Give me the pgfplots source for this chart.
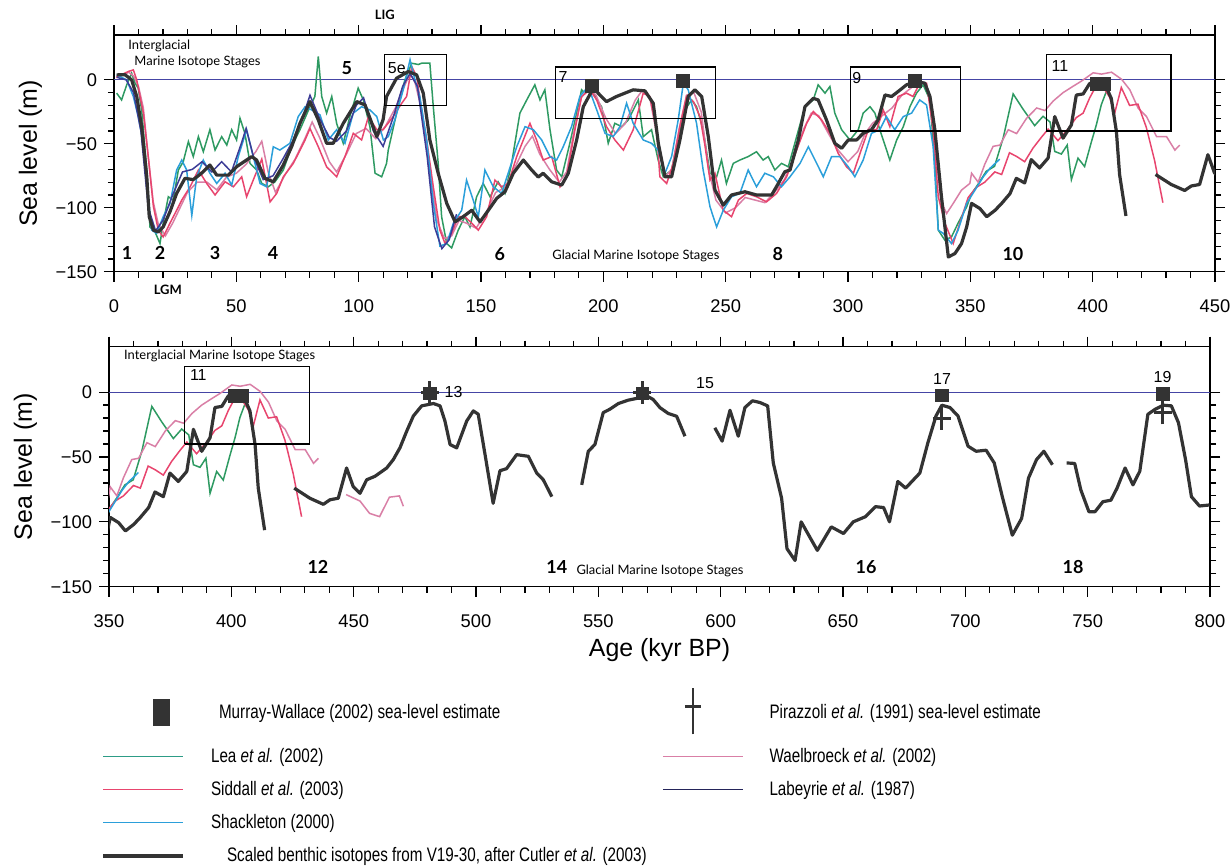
\documentclass[border=0pt]{standalone}
\usepackage{fontspec}
\setmainfont{Liberation Sans}
\newfontfamily\lato{Lato}
\usepackage{graphicx}
\usepackage{pgfplots}
\pgfplotsset{compat=1.18}
\usepackage{pgfplotstable}

\definecolor{cgreen}{HTML}{2E9A62}
\definecolor{cred}{HTML}{E8456E}
\definecolor{cpink}{HTML}{D97FA6}
\definecolor{cblue}{HTML}{2B9FDA}
\definecolor{cnavy}{HTML}{3C3C96}
\definecolor{cblack}{HTML}{333333}
\definecolor{czero}{HTML}{4545A5}

\newcommand\stg[1]{{\lato\bfseries\fontsize{9}{10}\selectfont #1}}
\newcommand\sml[1]{{\lato\fontsize{6.5}{7}\selectfont #1}}
\newcommand\num[1]{{\fontsize{8}{9}\selectfont #1}}
\newcommand\nar[1]{\scalebox{0.78}[1]{#1}}

\pgfplotstableread{
x y
1.1 3.9
4.5 4
7.2 0
9.3 -13
11.3 -36.6
13.4 -75.8
14.4 -107
16.1 -117.5
18.1 -118.9
20.1 -115
22.9 -103
25.6 -88.8
29 -77
32.4 -78
35.8 -73
39.2 -66.6
42 -74.5
46.7 -74.5
50.1 -67.9
56.3 -60
58.3 -62.7
61.7 -77
65.1 -79.7
69.2 -66.6
72.6 -52.3
76 -34
80.1 -17
83.5 -31.3
86.9 -49.6
89.6 -49.6
93.7 -34
99.2 -17
102.6 -19.6
107.4 -44.4
110 -31
111.4 -13
115.5 1.3
120.3 6.5
123.7 3.9
126.4 -10.4
129.1 -47
132.5 -73
136 -96.6
139.4 -111
142.7 -107
146.2 -102
149.6 -111
153 -102
156.4 -92.7
159.8 -87.5
163.2 -73
167.3 -62.7
170.7 -70.5
173.4 -76
175.4 -73
178.9 -79.7
183 -82.3
185.7 -73
189.1 -47
191.8 -21
195.9 -6.5
198.6 -11.8
201.3 -17
205.4 -13
212.2 -7.8
217 -8.6
220.4 -18.3
222.5 -50
225.2 -75.8
227.9 -75.8
231.3 -47
234.7 -13
237.4 -7.8
240.2 -13
242.9 -44.4
245.6 -86
249 -98
252.4 -90
257.9 -87.5
262.6 -90
268.8 -90
271.5 -81
274.2 -71.8
276.3 -70.5
279.7 -47
282.4 -21
285.8 -14.4
287.8 -15.7
291.2 -31.3
294.6 -49.6
297.4 -53.5
300.1 -47
303.5 -47
306.2 -41.8
309.6 -39
312.3 -31.3
315.1 -11.8
317.8 -13
320.5 -9.1
323.9 -3.9
328 -1.3
331.4 -2.6
333.5 -13
335.5 -39
338.2 -91.4
341 -138.5
343.7 -135.8
346.4 -128
348.5 -115
350.5 -96.6
353.9 -100.6
356.7 -107
360.1 -102
362.8 -96.6
366.2 -89
368.8 -77
372.2 -80.6
374.9 -62.4
378.3 -68.9
381.8 -61.1
384.5 -28.7
387.9 -45.6
391.3 -35.2
393.3 -11.9
396.1 -11
398.8 -2.8
401.5 -1.8
404.9 -2.8
407.6 -14.5
409.7 -40.4
411 -74
413.6 -106.4
}\blackA

\pgfplotstableread{
x y
425.7 -74
432.1 -81.8
437.6 -86.5
440.3 -83
443.7 -81.8
447.1 -58.5
449.8 -72.8
452.6 -78
455.3 -67.6
458.7 -64.9
463.5 -58.5
466.2 -52
468.9 -43
471.7 -30
474.4 -18.4
477.8 -10.6
482.6 -8.8
485.3 -10.6
487.3 -22.3
489.4 -40.4
492.1 -43
496.2 -22.3
498.9 -14.5
500.9 -17
503.7 -48.2
507 -85.7
509.8 -60.6
512.5 -59
516.6 -48.2
521.4 -49.5
524.8 -62.4
527.5 -67.6
531 -80.6
}\blackB

\pgfplotstableread{
x y
543.2 -71.5
545.9 -45.6
548.6 -40.4
552 -15.8
554.7 -13.2
558.2 -8.8
562.2 -6.2
565.6 -4.9
569.7 -2.8
572.4 -5.7
575.2 -12
578.6 -16.5
582 -18.6
585.4 -34
}\blackC

\pgfplotstableread{
x y
597.6 -27.5
600.6 -37.8
603.8 -14
607.2 -34
609.9 -11.9
613 -6.7
616 -8
619.2 -10.6
621.5 -54.6
624.9 -81.8
627.1 -120.7
630.4 -129.8
632.9 -100
639.5 -122
645.2 -103.9
650.2 -109
654.2 -100
659.2 -96
663.3 -88.3
666.6 -89
669 -100
672.4 -68.9
675.6 -74
681.4 -62.4
684.7 -39
688 -18.4
690.4 -10.1
693.7 -11.9
697 -18.4
701.1 -41.7
704.4 -45.6
708.5 -44.8
711.8 -54.6
715.1 -80.6
719.2 -110.3
723 -97.4
725.8 -66.3
729.1 -52
732.1 -45.6
735.6 -56
}\blackD

\pgfplotstableread{
x y
741.4 -54.6
744.7 -55
747.2 -75.4
750.5 -92.2
753 -92.2
756.2 -84.5
759.5 -83.3
762 -74
765.3 -58.5
768.5 -71.5
771.3 -61
774.6 -17.1
777.6 -13.2
780.9 -10.1
784.2 -10.6
787.1 -23.6
790 -52
792.4 -80.6
795.7 -87.8
799.8 -87
}\blackE

\pgfplotstableread{
x y
1.1 -10.4
3.1 -15.7
5.2 -3.9
7.2 5.2
8.6 -2.6
9.9 -6.5
11.3 -23.5
13.4 -70.5
14.7 -115
16.8 -119
18.8 -128
20.1 -112
22.2 -91.4
24.2 -94
26.3 -70.5
28.3 -64
30.4 -48.3
32.4 -60
34.5 -44.4
36.5 -56.2
39.2 -39
41.3 -54.9
44 -44.4
46.1 -51
48.1 -39
50.1 -47
51.5 -30
53.5 -41.8
55.6 -65.3
58.3 -70.5
60.4 -81
63.1 -83.6
65.8 -79.7
69.2 -70.5
72.6 -52.3
76 -39
80.1 -21
82.1 -13
83.5 18.3
84.9 -13
86.9 -26
89 -13
91 -34
93.7 -49.6
96.4 -28.7
99.8 -6.5
101.9 -15.7
104.6 -36.6
106.7 -73
109.4 -75.8
111.4 -65.3
112.1 -54.9
115.5 -26
118.9 0
121.7 13
124.4 12
125.7 13
129.1 13
130.5 -21
132.5 -65.3
133.9 -107
136 -128
138 -131.4
140.7 -117.5
143.4 -107
145.5 -115
148.2 -91.4
150.9 -81
153.7 -91.4
157 -79.7
159.8 -88.8
162.5 -65.3
165.9 -26
168.7 -15.7
172 -3.9
174.1 -15.7
176.1 -7.8
178.2 -39
180.9 -70.5
183 -75.8
185 -60
186.3 -49.6
189.1 -26
191.1 -7.8
192.5 -10.4
194.5 -3.9
197.3 -15.7
199.3 -21
202 -49.6
204.7 -34
207.5 -36.6
210.2 -31.3
212.9 -21
214.3 -15.7
216.3 -44.4
219.7 -39
222.4 -62.7
224.5 -75.8
227.9 -70.5
230.6 -44.4
233.3 -23.5
236.1 -15.7
238.1 -21
240.8 -39
243.6 -73
246.3 -75.8
248.3 -62.7
250.3 -81
253.1 -65.3
255.8 -62.7
259.2 -60
262.6 -56.2
265.3 -62.7
267.4 -60
270.1 -70.5
272.8 -65.3
275.6 -68
279 -44.4
282.4 -21
285.8 -15.7
287.8 -3.9
290.6 -10.4
292.6 -5.2
294.6 -26
297.4 -39
300.8 -47
304.2 -39
306.2 -26
309 -21
311 -26
313 -39
315.1 -51
317.1 -62.7
319.9 -47
322.6 -36.6
325.3 -21
328 -10.4
330.7 -3.9
333.5 -15.7
335.5 -65.3
336.9 -117.5
339.6 -125.4
342.3 -122.8
345 -112
348.5 -99.3
350.5 -89
353.1 -81.8
356.5 -71.5
359.9 -67.6
363.4 -45.6
367.5 -11
371.5 -22.8
376.3 -35.8
379.7 -28.5
382.6 -33
384.5 -56
387.2 -58
389.6 -51
391.3 -78
394 -61.2
396.7 -67.8
399.4 -49
401.5 -35.2
403.5 -19.6
406 -7
}\green

\pgfplotstableread{
x y
1 2
3 4
5.8 6.5
7.9 7.8
9.3 0
12 -26
14 -60
16.1 -99
18.1 -117.5
20.1 -122.8
22.9 -112
25.6 -102
27.7 -94
31.1 -83.6
34.5 -70.5
37.9 -81
41.3 -90
45.4 -79.7
48.8 -83.6
52.2 -75.8
54.2 -91.4
56.9 -78.4
60.4 -62
63.8 -95.4
66.5 -88.8
69.2 -75.8
73.3 -65.3
78.1 -47
80.1 -38
83.5 -52.3
86.9 -68
91 -75.8
94.4 -60
97.8 -41.8
101.2 -47
104 -28.7
107.4 -39
110 -39
114.1 -28.7
117.6 -18.3
119.6 -13
121.7 10.4
123.7 2.6
125.7 -23.5
127.8 -47
130.5 -83.6
133.2 -117.5
135.3 -128
138 -120
140.7 -107
143.4 -107
146.2 -112
148.9 -117.5
152.3 -107
155.7 -78.4
158.4 -83.6
161.1 -81
164.6 -60
167.3 -47
170 -34
172.7 -47
175.4 -62.7
178.9 -60
182.3 -83.6
185 -75.8
188.4 -39
191.1 -13
194.5 -7.8
197.3 -15.7
201.3 -36.6
204.7 -47
208.2 -54.9
212.2 -39
216.3 -10.4
219 -13
221.8 -39
223.1 -75.8
225.9 -81
228.6 -65.3
231.3 -36.6
234 -13
236.8 -17
239.5 -28.7
241.5 -51
243.6 -78.4
245.6 -73
249 -102
252.4 -107
255.2 -94
258.6 -88.8
262.6 -91.4
266.7 -95.4
270.8 -88.8
274.9 -75.8
279 -54.9
283.1 -34
285.8 -24.8
289.2 -31.3
292.6 -41.8
296 -57.5
299.4 -68
302.2 -73
304.9 -57.5
308.3 -39
311.7 -39
314.4 -23.5
317.1 -36.6
320.5 -13
323.9 -10.4
326.6 -13
329.3 -2.6
332.1 -2.6
334.8 -39
336.9 -91.4
339.6 -112
343 -128
345.7 -112
349.1 -92
352.5 -84
355.9 -80
360 -72
362.8 -74
366 -57
369 -60
372.2 -64
375.6 -53.4
379 -45
381.8 -38.5
385.8 -47.5
389.9 -38.5
393.3 -29.5
396.1 -26
398.8 -14
401.5 -4.5
404.2 -5.4
406.9 -13.5
409 -26
411.7 -6
415.1 -20
418.5 -19
421.9 -37
425.3 -63
428.7 -96
}\red

\pgfplotstableread{
x y
1 2
4 4
6 6
8 3
10 -5
12 -22
14 -60
16 -95
18 -112
21 -122
24 -112
27 -100
30 -88
34 -80
38 -80
42 -86
46 -76
50 -73
54 -66
58 -56
60.4 -48
63 -72
66 -88
70 -74
74 -62
78 -46
81 -33
84 -45
88 -64
91 -72
95 -58
99 -42
103 -38
107 -46
111 -36
115 -22
118 -8
121 5
123 -2
126 -25
129 -70
132 -110
135 -124
138 -122
141 -110
144 -112
148 -116
152 -104
156 -88
160 -84
164 -68
168 -52
171 -44
174 -58
178 -70
182 -80
185 -72
188 -40
191 -14
194 -6
197 -12
201 -30
205 -42
209 -34
213 -16
216 -8
219 -14
222 -45
225 -76
228 -70
231 -38
234 -12
237 -10
240 -25
243 -70
246 -94
250 -104
254 -100
258 -92
262 -94
266 -96
270 -88
274 -78
278 -60
282 -38
285 -26
288 -28
292 -42
296 -55
300 -64
304 -56
307 -42
310 -34
314 -28
318 -22
322 -12
326 -6
330 -2
332 -3
334 -20
336 -60
338 -95
340.3 -104.5
343 -96.6
346.4 -86.2
349.8 -81
350.5 -73
353.2 -80
355.9 -66
359.3 -52
362.1 -51
365.5 -39
368.9 -42
373 -30
377.1 -22
380.5 -24
383.9 -16.5
387.9 -10
392 -5
395.4 -1
400.2 5.5
403.6 4.5
407.7 6
411.8 0.5
415.2 -7.8
418.6 -22.2
422 -28.7
426.1 -44.4
430.2 -44.4
433.6 -54.9
435.6 -51
}\pink

\pgfplotstableread{
x y
446.9 -79
452.6 -84
456.5 -93.5
460.6 -96
464.6 -81
468.7 -80
470.3 -88
}\pinkB

\pgfplotstableread{
x y
1.1 3.9
5.2 0
7.9 -13
9.9 -28.7
12 -49.6
14 -91.4
15.4 -117.5
17.4 -120
20.1 -107
22.9 -96.6
25.6 -70.5
27.7 -62.7
29.7 -70.5
31.8 -106
33.8 -75.8
36.5 -62.7
39.2 -73
42 -81
45.4 -73
48.1 -82.3
50.8 -60
54.2 -39
56.9 -60
59.7 -81
62.4 -83.6
65.1 -52.3
67.8 -54.9
71.9 -49.6
75.3 -28.7
78.1 -21
80.8 -23.5
84.2 -27.4
87.6 -47
91 -39
94.4 -49.6
97.8 -26
101.2 -21
104.6 -23.5
107.4 -28.7
110.1 -47
112.1 -44.4
114.8 -31.3
118.2 -7.8
121 15.7
123 0
125 -13
127.8 -47
130.5 -96.6
133.2 -130
136 -128
138.7 -112
142.1 -102
144.1 -78.4
146.8 -94
148.9 -107
151.6 -70.5
155 -83.6
158.4 -88.8
161.1 -73
164.6 -52.3
168 -36.6
171.4 -39
174.8 -47
178.2 -60
180.9 -62.7
183.6 -52.3
187 -36.6
190.4 -13
193.8 -5.2
197.3 -23.5
200.7 -41.8
204 -44.4
206.8 -36.6
209.5 -18.3
212.2 -34
216.3 -47
219.7 -49.6
222.4 -54.9
225.2 -73
227.9 -60
230.6 -31.3
232.7 -2.6
234.7 -7.8
238.1 -34
240.8 -70.5
243.6 -99.3
246.3 -115
249 -102
252.4 -91.4
255.8 -88.8
259.2 -70.5
262.6 -83.6
266 -73
269.5 -75.8
272.8 -83.6
276.3 -75.8
280.4 -65.3
283.8 -52.3
287.2 -65.3
289.9 -75.8
293.3 -60
296.7 -60
300.1 -68
302.8 -75.8
306.2 -62.7
309.6 -41.8
313 -39
315.7 -28.7
319.1 -39
322.6 -28.7
326 -26
329.3 -15.7
332.1 -19.6
334.8 -52.3
336.9 -117.5
338.9 -120
342.3 -128
345 -117.5
348.5 -96.6
351.9 -86.2
355.3 -75.8
358 -69.2
362 -62
}\blue

\pgfplotstableread{
x y
1.1 2
5 0
8 -10
11 -40
14 -100
17 -118
20 -110
24 -90
28 -72
32 -70
36 -64
40 -72
44 -64
48 -72
52 -50
54 -38
57 -60
61 -78
65 -75
69 -62
73 -48
77 -30
80.1 -12
84 -30
88 -45
91 -48
95 -40
99 -20
102 -14
106 -40
110 -52
114 -30
118 -5
121 5
124 -5
128 -60
131 -115
134 -132
137 -125
140 -105
}\navy

\pgfdeclareplotmark{pcross}{%
  \pgfpathmoveto{\pgfqpoint{0pt}{-5.8bp}}%
  \pgfpathlineto{\pgfqpoint{0pt}{5.8bp}}%
  \pgfpathmoveto{\pgfqpoint{-4.5bp}{0pt}}%
  \pgfpathlineto{\pgfqpoint{4.5bp}{0pt}}%
  \pgfusepathqstroke}

\pgfplotsset{
  panel/.style={
    scale only axis, width=550.5bp,
    ymin=-150, ymax=35,
    ytick={-150,-100,-50,0}, yticklabels={−150,−100,−50,0},
    minor y tick num=4,
    xtick distance=50, minor x tick num=4,
    tick align=outside, xtick pos=both, ytick pos=both,
    xticklabel pos=lower, yticklabel pos=left,
    major tick length=5bp, minor tick length=3bp,
    tick style={black, line width=0.6bp},
    axis line style={line width=0.7bp},
    tick label style={font=\fontsize{9.2}{10}\selectfont},
    xticklabel style={yshift=-5.5bp},
    /pgf/number format/assume math mode=true,
    ylabel={Sea level (m)},
    ylabel style={font=\fontsize{12.5}{14}\selectfont},
    label style={font=\fontsize{12.5}{14}\selectfont},
    clip mode=individual,
  },
  thinl/.style={line width=0.75bp, forget plot},
  thickl/.style={cblack, line width=1.6bp, line join=round, forget plot},
  msq/.style={only marks, mark=square*, mark size=3.2bp, mark options={fill=cblack, draw=cblack}, forget plot},
  mcr/.style={only marks, mark=pcross, mark options={draw=cblack, line width=1.5bp}, forget plot},
  boxl/.style={black, line width=0.6bp, forget plot},
}

\begin{document}
\begin{tikzpicture}
\path[use as bounding box] (0,0) rectangle (615.5bp,433.5bp);

% ---------------- top panel
\begin{axis}[panel, at={(57bp,297.65bp)}, anchor=south west, height=118.3bp,
  xmin=0, xmax=450]
\addplot[czero, line width=0.5bp, forget plot] coordinates {(0,0) (450,0)};
\addplot[cgreen, thinl] table {\green};
\addplot[cpink, thinl] table {\pink};
\addplot[cred, thinl] table {\red};
\addplot[cblue, thinl] table {\blue};
\addplot[cnavy, thinl] table {\navy};
\addplot[thickl] table {\blackA};
\addplot[thickl] table {\blackB};
\addplot[boxl] coordinates {(110.5,-20) (136,-20) (136,20) (110.5,20) (110.5,-20)};
\addplot[boxl] coordinates {(180.4,-30) (246,-30) (246,10) (180.4,10) (180.4,-30)};
\addplot[boxl] coordinates {(301,-40) (346,-40) (346,10) (301,10) (301,-40)};
\addplot[boxl] coordinates {(381,-40) (432,-40) (432,20) (381,20) (381,-40)};
\addplot[msq] coordinates {(195.3,-4.5) (232.5,-1) (327.5,-1) (401.5,-3) (404.5,-3)};
\node[anchor=west] at (axis cs:3,26.6) {\sml{Interglacial}};
\node[anchor=west] at (axis cs:5.5,14) {\sml{Marine Isotope Stages}};
\node at (axis cs:5.3,-135.6) {\stg{1}};
\node at (axis cs:18.8,-135.6) {\stg{2}};
\node at (axis cs:41.3,-135.6) {\stg{3}};
\node at (axis cs:65,-135.6) {\stg{4}};
\node at (axis cs:95.2,9.4) {\stg{5}};
\node at (axis cs:115.6,9.4) {\num{5e}};
\node at (axis cs:157.7,-136) {\stg{6}};
\node at (axis cs:213.3,-138) {\sml{Glacial Marine Isotope Stages}};
\node at (axis cs:271.3,-136) {\stg{8}};
\node at (axis cs:367.4,-136) {\stg{10}};
\node at (axis cs:183.5,2.3) {\num{7}};
\node at (axis cs:303.6,1.6) {\num{9}};
\node at (axis cs:386.6,11) {\num{11}};
\node[anchor=south] at (axis cs:110.7,35) [yshift=4bp] {{\lato\bfseries\fontsize{6.5}{7}\selectfont LIG}};
\node[anchor=north] at (axis cs:22,-150) [yshift=-3bp] {{\lato\bfseries\fontsize{6.5}{7}\selectfont LGM}};
\end{axis}

% ---------------- bottom panel
\begin{axis}[panel, at={(54.5bp,140.15bp)}, anchor=south west, height=120bp,
  xmin=350, xmax=800, xlabel={Age (kyr BP)},
  xlabel style={yshift=1.5bp},
  legend columns=2,
  legend cell align=left,
  legend style={draw=none, fill=none, at={(-0.013,-0.40)}, anchor=north west,
    font=\fontsize{9.8}{11}\selectfont, row sep=4bp,
    /tikz/every odd column/.append style={column sep=11bp},
    /tikz/every even column/.append style={column sep=79bp}},
  ]
\addplot[czero, line width=0.5bp, forget plot] coordinates {(350,0) (800,0)};
\addplot[cgreen, thinl] table {\green};
\addplot[cpink, thinl] table {\pink};
\addplot[cpink, thinl] table {\pinkB};
\addplot[cred, thinl] table {\red};
\addplot[cblue, thinl] table {\blue};
\addplot[thickl] table {\blackA};
\addplot[thickl] table {\blackB};
\addplot[thickl] table {\blackC};
\addplot[thickl] table {\blackD};
\addplot[thickl] table {\blackE};
\addplot[boxl] coordinates {(381,-40) (432,-40) (432,20) (381,20) (381,-40)};
\addplot[mcr] coordinates {(481,0) (568,0) (690.4,-20) (780.6,-16)};
\addplot[msq] coordinates {(401.5,-3) (404.5,-3) (481,-1) (568,-1) (690.4,-2.5) (780.6,-1.5)};
\node[anchor=west] at (axis cs:353.3,28) {\sml{Interglacial Marine Isotope Stages}};
\node at (axis cs:386.5,13.2) {\num{11}};
\node at (axis cs:490.8,0) {\num{13}};
\node at (axis cs:593.6,7) {\num{15}};
\node at (axis cs:690.5,10) {\num{17}};
\node at (axis cs:780.6,11.6) {\num{19}};
\node at (axis cs:435.4,-135) {\stg{12}};
\node at (axis cs:533,-135) {\stg{14}};
\node at (axis cs:575.2,-137.5) {\sml{Glacial Marine Isotope Stages}};
\node at (axis cs:659.4,-135) {\stg{16}};
\node at (axis cs:744,-135) {\stg{18}};

\addlegendimage{legend image code/.code={\fill[cblack] (25bp,-6.5bp) rectangle (33bp,6.5bp);}}
\addlegendentry{\hspace{4bp}\nar{Murray-Wallace (2002) sea-level estimate}}
\addlegendimage{legend image code/.code={\draw[cblack, line width=1.4bp] (15bp,-11bp)--(15bp,12bp) (11bp,3bp)--(19bp,3bp);}}
\addlegendentry{\nar{Pirazzoli \textit{et al.} (1991) sea-level estimate}}
\addlegendimage{legend image code/.code={\draw[cgreen!70!cblue, line width=0.6bp] (0bp,0bp)--(40bp,0bp);}}
\addlegendentry{\nar{Lea \textit{et al.} (2002)}}
\addlegendimage{legend image code/.code={\draw[cpink, line width=0.6bp] (0bp,0bp)--(40bp,0bp);}}
\addlegendentry{\nar{Waelbroeck \textit{et al.} (2002)}}
\addlegendimage{legend image code/.code={\draw[cred, line width=0.6bp] (0bp,0bp)--(40bp,0bp);}}
\addlegendentry{\nar{Siddall \textit{et al.} (2003)}}
\addlegendimage{legend image code/.code={\draw[cnavy!60!black, line width=0.6bp] (0bp,0bp)--(40bp,0bp);}}
\addlegendentry{\nar{Labeyrie \textit{et al.} (1987)}}
\addlegendimage{legend image code/.code={\draw[cblue, line width=0.6bp] (0bp,0bp)--(40bp,0bp);}}
\addlegendentry{\nar{Shackleton (2000)}}
\addlegendimage{empty legend}
\addlegendentry{}
\addlegendimage{legend image code/.code={\draw[cblack, line width=2bp] (0bp,0bp)--(40bp,0bp);}}
\addlegendentry{\makebox[0pt][l]{\hspace{8bp}\nar{Scaled benthic isotopes from V19-30, after Cutler \textit{et al.} (2003)}}}
\addlegendimage{empty legend}
\addlegendentry{}
\end{axis}
\end{tikzpicture}
\end{document}
